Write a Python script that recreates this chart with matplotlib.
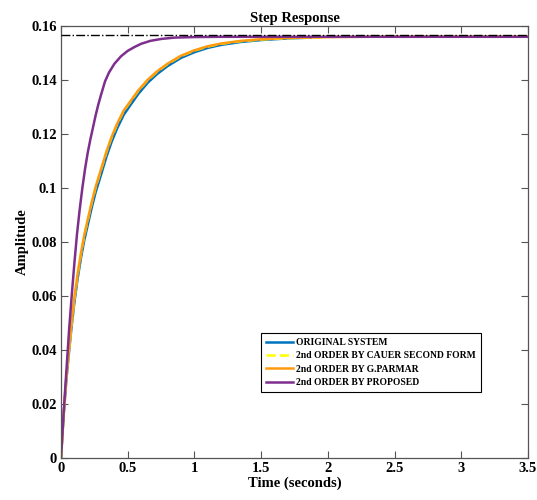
import matplotlib
matplotlib.use('Agg')
import matplotlib.pyplot as plt

t_orig = [0, 0.02, 0.04, 0.06, 0.08, 0.10, 0.125, 0.15, 0.175, 0.20, 0.23, 0.26, 0.30, 0.34,
          0.38, 0.42, 0.47, 0.52, 0.58, 0.65, 0.72, 0.80, 0.90, 1.0, 1.1, 1.2, 1.35, 1.5, 1.7, 1.87]
y_orig = [0, 0.0158, 0.0288, 0.0392, 0.0490, 0.0576, 0.0666, 0.0742, 0.0808, 0.0862, 0.0927,
          0.0985, 0.1049, 0.1115, 0.1172, 0.1220, 0.1271, 0.1307, 0.1349, 0.1390, 0.1422,
          0.1452, 0.1482, 0.1503, 0.1519, 0.1530, 0.1541, 0.1548, 0.1554, 0.1557]

# cauer curve sits right under the G.Parmar one in the reference
t_cauer = [0, 0.02, 0.04, 0.06, 0.08, 0.10, 0.125, 0.15, 0.175, 0.20, 0.23, 0.26, 0.30, 0.34,
           0.38, 0.42, 0.47, 0.52, 0.58, 0.65, 0.72, 0.80, 0.90, 1.0, 1.1, 1.2, 1.35, 1.5, 1.7, 1.96]
y_cauer = [0, 0.0163, 0.0296, 0.0403, 0.0503, 0.0591, 0.0682, 0.0759, 0.0826, 0.0881, 0.0946,
           0.1004, 0.1068, 0.1133, 0.1189, 0.1236, 0.1286, 0.1320, 0.1361, 0.1400, 0.1431,
           0.1460, 0.1489, 0.1509, 0.1524, 0.1534, 0.1544, 0.1550, 0.1555, 0.1558]

t_parmar = [0, 0.02, 0.04, 0.06, 0.08, 0.10, 0.125, 0.15, 0.175, 0.20, 0.23, 0.26, 0.30, 0.34,
            0.38, 0.42, 0.47, 0.52, 0.58, 0.65, 0.72, 0.80, 0.90, 1.0, 1.1, 1.2, 1.35, 1.5, 1.7,
            2.0, 2.5, 3.5]
y_parmar = [0, 0.0164, 0.0297, 0.0404, 0.0504, 0.0592, 0.0683, 0.0760, 0.0827, 0.0882, 0.0947,
            0.1005, 0.1069, 0.1134, 0.1190, 0.1237, 0.1287, 0.1321, 0.1362, 0.1401, 0.1432,
            0.1461, 0.1490, 0.1510, 0.1525, 0.1535, 0.1545, 0.1551, 0.1556, 0.1559, 0.1561, 0.1561]

t_prop = [0, 0.02, 0.04, 0.06, 0.08, 0.10, 0.12, 0.14, 0.16, 0.18, 0.20, 0.22, 0.24, 0.26, 0.28,
          0.30, 0.33, 0.36, 0.40, 0.45, 0.50, 0.55, 0.60, 0.67, 0.75, 0.85, 1.0, 1.2, 3.5]
y_prop = [0, 0.017, 0.032, 0.047, 0.060, 0.072, 0.083, 0.092, 0.100, 0.107, 0.113, 0.118,
          0.1225, 0.127, 0.1310, 0.1345, 0.1395, 0.1428, 0.1460, 0.1488, 0.1508, 0.1522,
          0.1534, 0.1545, 0.1552, 0.1557, 0.1559, 0.1560, 0.1560]

t_ss = [0, 3.5]
y_ss = [0.1568, 0.1568]

x_ticks = [0, 0.5, 1, 1.5, 2, 2.5, 3, 3.5]
x_labels = ['0', '0.5', '1', '1.5', '2', '2.5', '3', '3.5']
y_ticks = [0, 0.02, 0.04, 0.06, 0.08, 0.1, 0.12, 0.14, 0.16]
y_labels = ['0', '0.02', '0.04', '0.06', '0.08', '0.1', '0.12', '0.14', '0.16']

plt.rcParams['font.family'] = ['Liberation Serif', 'DejaVu Serif']
plt.rcParams['font.weight'] = 'bold'

fig = plt.figure(figsize=(5.37, 5), dpi=100)
ax = fig.add_axes([0.1136, 0.084, 0.8697, 0.864])

ax.plot(t_ss, y_ss, color='black', linestyle='-.', linewidth=1.0, zorder=5)
ax.plot(t_orig, y_orig, color='#0072BD', linewidth=1.8, label='ORIGINAL SYSTEM')
ax.plot(t_cauer, y_cauer, color='#FFFF00', linestyle='--', linewidth=1.8,
        label='2nd ORDER BY CAUER SECOND FORM')
ax.plot(t_parmar, y_parmar, color='#FF9A10', linewidth=1.8, label='2nd ORDER BY G.PARMAR')
ax.plot(t_prop, y_prop, color='#7E2F8E', linewidth=1.8, label='2nd ORDER BY PROPOSED')

ax.set_xlim(0, 3.5)
ax.set_ylim(0, 0.16)
ax.set_xticks(x_ticks)
ax.set_xticklabels(x_labels)
ax.set_yticks(y_ticks)
ax.set_yticklabels(y_labels)
ax.tick_params(direction='in', top=True, right=True, length=5, width=0.8,
               color='#555555', labelsize=10.5, pad=3)
for lab in ax.get_xticklabels() + ax.get_yticklabels():
    lab.set_fontweight('bold')
for s in ax.spines.values():
    s.set_color('#555555')
    s.set_linewidth(0.9)

ax.set_title('Step Response', fontsize=10.5, fontweight='bold', pad=3)
ax.set_xlabel('Time (seconds)', fontsize=10.5, fontweight='bold', labelpad=1)
ax.set_ylabel('Amplitude', fontsize=10.5, fontweight='bold', labelpad=2)

leg = ax.legend(loc='lower left', bbox_to_anchor=(0.428, 0.153), borderaxespad=0,
                prop={'weight': 'bold', 'size': 6.9},
                handlelength=2.8, handletextpad=0.4, labelspacing=0.45, borderpad=0.5,
                fancybox=False, framealpha=1, edgecolor='black')
leg.get_frame().set_linewidth(0.8)

fig.savefig('out.png', dpi=100)
